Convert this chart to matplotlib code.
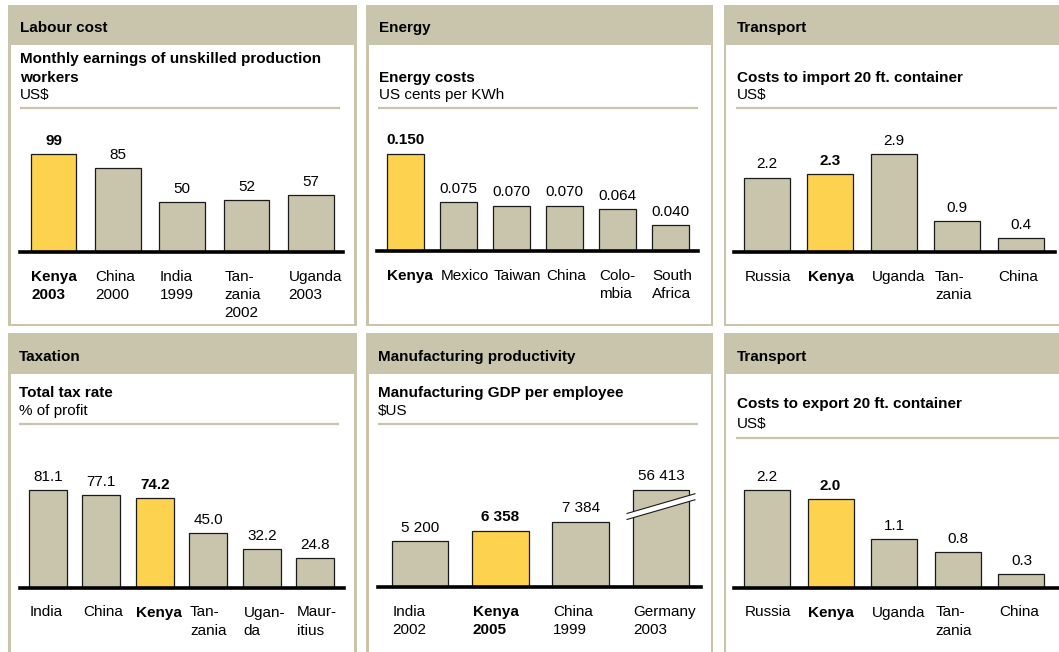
import matplotlib
matplotlib.use("Agg")
import matplotlib.pyplot as plt
from matplotlib.patches import Rectangle, Polygon
from matplotlib.lines import Line2D

# ---------------- data ----------------
labour_labels = ["Kenya\n2003", "China\n2000", "India\n1999", "Tan-\nzania\n2002", "Uganda\n2003"]
labour_values = [99, 85, 50, 52, 57]

energy_labels = ["Kenya", "Mexico", "Taiwan", "China", "Colo-\nmbia", "South\nAfrica"]
energy_values = [0.150, 0.075, 0.070, 0.070, 0.064, 0.040]

import_labels = ["Russia", "Kenya", "Uganda", "Tan-\nzania", "China"]
import_values = [2.2, 2.3, 2.9, 0.9, 0.4]

tax_labels = ["India", "China", "Kenya", "Tan-\nzania", "Ugan-\nda", "Maur-\nitius"]
tax_values = [81.1, 77.1, 74.2, 45.0, 32.2, 24.8]

mfg_labels = ["India\n2002", "Kenya\n2005", "China\n1999", "Germany\n2003"]
mfg_values = [5200, 6358, 7384, 56413]

export_labels = ["Russia", "Kenya", "Uganda", "Tan-\nzania", "China"]
export_values = [2.2, 2.0, 1.1, 0.8, 0.3]

# ---------------- style ----------------
W, H = 1059, 652
KHAKI = "#C9C5AC"
BAR_GREY = "#C9C5AD"
YELLOW = "#FDD24F"
FS = 11
plt.rcParams['font.family'] = ['Liberation Sans', 'DejaVu Sans']

fig = plt.figure(figsize=(W / 100, H / 100), dpi=100)
fig.patch.set_facecolor("white")


def fx(x):
    return x / W


def fy(y):
    return 1 - y / H


def rect(x0, y0, x1, y1, color):
    fig.add_artist(Rectangle((fx(x0), fy(y1)), (x1 - x0) / W, (y1 - y0) / H,
                             transform=fig.transFigure, facecolor=color,
                             edgecolor="none", zorder=0))


def ftext(x, y, s, bold=False):
    fig.text(fx(x), fy(y), s, ha="left", va="baseline", fontsize=FS,
             fontweight="bold" if bold else "normal", color="black")


def hline(x0, x1, y, color=KHAKI, lw=1.6):
    fig.add_artist(Line2D([fx(x0), fx(x1)], [fy(y), fy(y)], transform=fig.transFigure,
                          color=color, lw=lw, solid_capstyle="butt"))


# panel frames: (x0, y0, x1, y1, header bottom)
frames = [
    (8, 5, 356.5, 326, 44.5),
    (366, 5, 713, 326, 44.5),
    (723.5, 5, 1070, 326, 44.5),
    (8, 333, 356.5, 670, 374),
    (366, 333, 713, 670, 374),
    (723.5, 333, 1070, 670, 374),
]
for (x0, y0, x1, y1, hb) in frames:
    rect(x0, y0, x1, y1, KHAKI)
    rect(x0 + 2.5, hb, x1 - 2.5, y1 - 2, "white")

BAR_PX = 97.5


def panel(header, title_lines, unit, hx, hy, tys, sep_y, sep_x,
          labels, values, fmt, ax_x, base_y, xlim, width, cap=None):
    ftext(hx, hy, header, bold=True)
    for k, t in enumerate(title_lines):
        ftext(hx, tys[k], t, bold=True)
    ftext(hx, tys[len(title_lines)], unit)
    hline(sep_x[0], sep_x[1], sep_y)

    ax = fig.add_axes([fx(ax_x[0]), fy(base_y), (ax_x[1] - ax_x[0]) / W, BAR_PX / H])
    ax.set_facecolor("none")
    for s in ax.spines.values():
        s.set_visible(False)
    ax.set_xticks([])
    ax.set_yticks([])
    top = cap if cap is not None else max(values)
    ax.set_xlim(*xlim)
    ax.set_ylim(0, top)
    shown = [min(v, top) for v in values]
    colors = [YELLOW if l.startswith("Kenya") else BAR_GREY for l in labels]
    xs = list(range(len(values)))
    ax.bar(xs, shown, width=width, color=colors, edgecolor="#1a1a1a",
           linewidth=0.9, clip_on=False, zorder=2)
    ax.axhline(0, color="black", lw=2.6, clip_on=False, zorder=3)
    for i, (lab, v, s) in enumerate(zip(labels, values, shown)):
        bold = lab.startswith("Kenya")
        ax.annotate(fmt(v), xy=(i, s), xytext=(0, 6.6), textcoords="offset points",
                    ha="center", va="baseline", fontsize=FS,
                    fontweight="bold" if bold else "normal", annotation_clip=False)
        for j, line in enumerate(lab.split("\n")):
            ax.annotate(line, xy=(i - width / 2, 0),
                        xytext=(0.5, -(29.0 + 18.3 * j) * 0.72), textcoords="offset points",
                        ha="left", va="baseline", fontsize=FS,
                        fontweight="bold" if bold else "normal", annotation_clip=False)
    return ax


def fmt1(v):
    return f"{v:.1f}"


panel("Labour cost", ["Monthly earnings of unskilled production", "workers"], "US$",
      20, 32.3, [63.3, 81.7, 99.3], 108, (20, 340),
      labour_labels, labour_values, lambda v: f"{v:d}",
      (20, 343), 251.5, (-0.521, 4.50), 0.709)

panel("Energy", ["Energy costs"], "US cents per KWh",
      379, 32.3, [81.7, 99.3], 108.3, (378, 698),
      energy_labels, energy_values, lambda v: f"{v:.3f}",
      (377, 698), 251.0, (-0.538, 5.522), 0.708)

panel("Transport", ["Costs to import 20 ft. container"], "US$",
      736.7, 32.3, [81.7, 99.3], 108, (735.7, 1057),
      import_labels, import_values, fmt1,
      (734, 1055), 251.5, (-0.517, 4.538), 0.724)

panel("Taxation", ["Total tax rate"], "% of profit",
      19.3, 360.7, [396.7, 415], 423.7, (19, 339),
      tax_labels, tax_values, fmt1,
      (20, 344), 587.5, (-0.518, 5.536), 0.71)

ax5 = panel("Manufacturing productivity", ["Manufacturing GDP per employee"], "$US",
            378.3, 360.7, [396.7, 415], 423.7, (377.7, 698),
            mfg_labels, mfg_values, lambda v: f"{v:,}".replace(",", " "),
            (378, 701), 587.0, (-0.523, 3.498), 0.705, cap=11000)

panel("Transport", ["Costs to export 20 ft. container"], "US$",
      736.7, 360.7, [408.3, 428.3], 437.7, (735.7, 1059),
      export_labels, export_values, fmt1,
      (734, 1059), 587.5, (-0.517, 4.59), 0.724)

# axis-break marker on the Germany bar
gi = 3
half = 0.705 / 2 + 0.07
xl, xr = gi - half, gi + half
up_l, up_r, lo_l, lo_r = 8300, 10520, 7620, 9840
ax5.add_patch(Polygon([(xl, lo_l), (xl, up_l), (xr, up_r), (xr, lo_r)], closed=True,
                      facecolor="white", edgecolor="none", zorder=4, clip_on=False))
ax5.add_line(Line2D([xl, xr], [up_l, up_r], color="#1a1a1a", lw=0.8, zorder=5, clip_on=False))
ax5.add_line(Line2D([xl, xr], [lo_l, lo_r], color="#1a1a1a", lw=0.8, zorder=5, clip_on=False))

fig.savefig("out.png", dpi=100, facecolor="white")
